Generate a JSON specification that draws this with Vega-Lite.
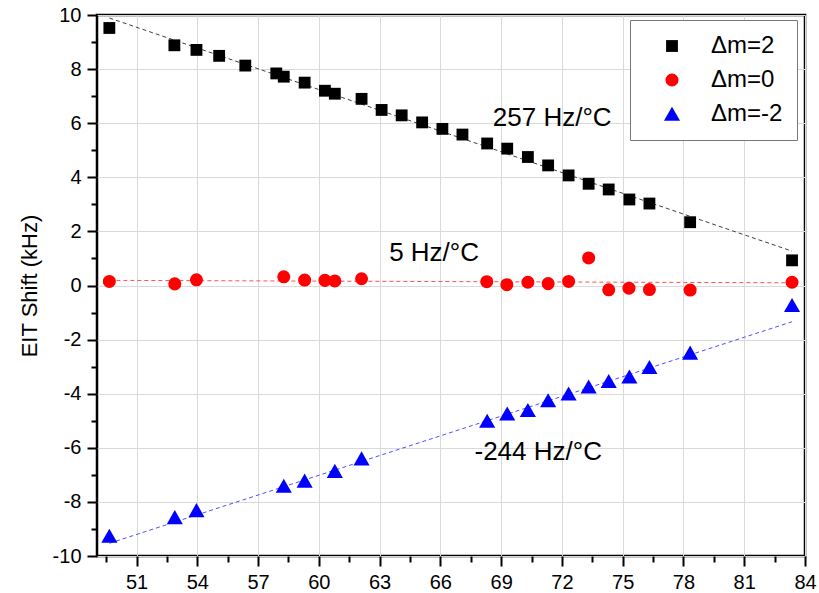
{
  "$schema": "https://vega.github.io/schema/vega-lite/v6.json",
  "autosize": {"type": "none"},
  "padding": {"left": 97, "top": 15, "right": 14, "bottom": 37},
  "width": 708,
  "height": 541,
  "background": "white",
  "config": {
    "view": {"stroke": "black", "strokeWidth": 2.5},
    "font": "Liberation Sans",
    "axis": {
      "labelFont": "Liberation Sans",
      "labelFontSize": 20,
      "labelColor": "black",
      "labelFlush": false,
      "titleFont": "Liberation Sans",
      "titleFontWeight": "normal",
      "titleColor": "black",
      "tickColor": "black",
      "tickWidth": 2,
      "domain": false,
      "gridColor": "#d9d9d9",
      "gridWidth": 1
    }
  },
  "datasets": {
    "points": [
      {"T": 49.66, "shift": 9.52, "series": "Δm=2"},
      {"T": 52.87, "shift": 8.88, "series": "Δm=2"},
      {"T": 53.96, "shift": 8.71, "series": "Δm=2"},
      {"T": 55.08, "shift": 8.49, "series": "Δm=2"},
      {"T": 56.37, "shift": 8.13, "series": "Δm=2"},
      {"T": 57.90, "shift": 7.84, "series": "Δm=2"},
      {"T": 58.27, "shift": 7.72, "series": "Δm=2"},
      {"T": 59.30, "shift": 7.50, "series": "Δm=2"},
      {"T": 60.30, "shift": 7.20, "series": "Δm=2"},
      {"T": 60.79, "shift": 7.09, "series": "Δm=2"},
      {"T": 62.11, "shift": 6.90, "series": "Δm=2"},
      {"T": 63.10, "shift": 6.49, "series": "Δm=2"},
      {"T": 64.09, "shift": 6.29, "series": "Δm=2"},
      {"T": 65.10, "shift": 6.03, "series": "Δm=2"},
      {"T": 66.10, "shift": 5.79, "series": "Δm=2"},
      {"T": 67.09, "shift": 5.58, "series": "Δm=2"},
      {"T": 68.31, "shift": 5.25, "series": "Δm=2"},
      {"T": 69.30, "shift": 5.06, "series": "Δm=2"},
      {"T": 70.32, "shift": 4.75, "series": "Δm=2"},
      {"T": 71.32, "shift": 4.44, "series": "Δm=2"},
      {"T": 72.33, "shift": 4.07, "series": "Δm=2"},
      {"T": 73.32, "shift": 3.76, "series": "Δm=2"},
      {"T": 74.31, "shift": 3.55, "series": "Δm=2"},
      {"T": 75.33, "shift": 3.18, "series": "Δm=2"},
      {"T": 76.32, "shift": 3.03, "series": "Δm=2"},
      {"T": 78.33, "shift": 2.34, "series": "Δm=2"},
      {"T": 83.36, "shift": 0.93, "series": "Δm=2"},
      {"T": 49.66, "shift": 0.15, "series": "Δm=0"},
      {"T": 52.89, "shift": 0.06, "series": "Δm=0"},
      {"T": 53.96, "shift": 0.21, "series": "Δm=0"},
      {"T": 58.27, "shift": 0.32, "series": "Δm=0"},
      {"T": 59.30, "shift": 0.20, "series": "Δm=0"},
      {"T": 60.30, "shift": 0.19, "series": "Δm=0"},
      {"T": 60.79, "shift": 0.17, "series": "Δm=0"},
      {"T": 62.11, "shift": 0.25, "series": "Δm=0"},
      {"T": 68.29, "shift": 0.14, "series": "Δm=0"},
      {"T": 69.28, "shift": 0.03, "series": "Δm=0"},
      {"T": 70.32, "shift": 0.12, "series": "Δm=0"},
      {"T": 71.32, "shift": 0.07, "series": "Δm=0"},
      {"T": 72.33, "shift": 0.15, "series": "Δm=0"},
      {"T": 73.32, "shift": 1.02, "series": "Δm=0"},
      {"T": 74.31, "shift": -0.16, "series": "Δm=0"},
      {"T": 75.31, "shift": -0.10, "series": "Δm=0"},
      {"T": 76.32, "shift": -0.15, "series": "Δm=0"},
      {"T": 78.33, "shift": -0.17, "series": "Δm=0"},
      {"T": 83.36, "shift": 0.12, "series": "Δm=0"},
      {"T": 49.66, "shift": -9.26, "series": "Δm=-2"},
      {"T": 52.89, "shift": -8.57, "series": "Δm=-2"},
      {"T": 53.96, "shift": -8.31, "series": "Δm=-2"},
      {"T": 58.27, "shift": -7.41, "series": "Δm=-2"},
      {"T": 59.30, "shift": -7.22, "series": "Δm=-2"},
      {"T": 60.79, "shift": -6.86, "series": "Δm=-2"},
      {"T": 62.11, "shift": -6.40, "series": "Δm=-2"},
      {"T": 68.31, "shift": -5.01, "series": "Δm=-2"},
      {"T": 69.30, "shift": -4.74, "series": "Δm=-2"},
      {"T": 70.32, "shift": -4.61, "series": "Δm=-2"},
      {"T": 71.32, "shift": -4.25, "series": "Δm=-2"},
      {"T": 72.33, "shift": -4.00, "series": "Δm=-2"},
      {"T": 73.32, "shift": -3.74, "series": "Δm=-2"},
      {"T": 74.31, "shift": -3.54, "series": "Δm=-2"},
      {"T": 75.33, "shift": -3.37, "series": "Δm=-2"},
      {"T": 76.32, "shift": -3.02, "series": "Δm=-2"},
      {"T": 78.33, "shift": -2.49, "series": "Δm=-2"},
      {"T": 83.36, "shift": -0.73, "series": "Δm=-2"}
    ],
    "fits": [
      {"T": 49.66, "shift": 9.89, "fit": "fit2"},
      {"T": 83.36, "shift": 1.27, "fit": "fit2"},
      {"T": 49.66, "shift": 0.19, "fit": "fit0"},
      {"T": 83.36, "shift": 0.10, "fit": "fit0"},
      {"T": 49.66, "shift": -9.53, "fit": "fitm2"},
      {"T": 83.36, "shift": -1.34, "fit": "fitm2"}
    ],
    "notes": [
      {"T": 71.52, "shift": 6.21, "text": "257 Hz/°C"},
      {"T": 65.69, "shift": 1.19, "text": "5 Hz/°C"},
      {"T": 70.83, "shift": -6.15, "text": "-244 Hz/°C"}
    ]
  },
  "layer": [
    {
      "data": {"name": "fits"},
      "mark": {"type": "line", "strokeWidth": 1, "strokeDash": [4, 3]},
      "encoding": {
        "x": {
          "field": "T", "type": "quantitative",
          "scale": {"domain": [49.05, 84], "nice": false, "zero": false},
          "axis": {
            "orient": "bottom",
            "values": [49.5, 52.5, 55.5, 58.5, 61.5, 64.5, 67.5, 70.5, 73.5, 76.5, 79.5, 82.5],
            "labels": false, "grid": false, "tickSize": 6, "title": null
          }
        },
        "y": {
          "field": "shift", "type": "quantitative",
          "scale": {"domain": [-10, 10], "nice": false, "zero": false},
          "axis": {
            "orient": "left",
            "values": [-9, -7, -5, -3, -1, 1, 3, 5, 7, 9],
            "labels": false, "grid": false, "tickSize": 6, "title": null
          }
        },
        "stroke": {
          "field": "fit", "type": "nominal",
          "scale": {"domain": ["fit2", "fit0", "fitm2"], "range": ["#404040", "#ff5050", "#5050ff"]},
          "legend": null
        }
      }
    },
    {
      "data": {"name": "points"},
      "mark": {"type": "point", "filled": true, "opacity": 1},
      "encoding": {
        "x": {
          "field": "T", "type": "quantitative",
          "axis": {
            "orient": "bottom",
            "values": [51, 54, 57, 60, 63, 66, 69, 72, 75, 78, 81, 84],
            "grid": true, "tickSize": 10, "labelPadding": 6, "title": null
          }
        },
        "y": {
          "field": "shift", "type": "quantitative",
          "axis": {
            "orient": "left",
            "values": [-10, -8, -6, -4, -2, 0, 2, 4, 6, 8, 10],
            "labelExpr": "'' + datum.value",
            "grid": true, "tickSize": 10, "labelPadding": 6,
            "title": "EIT Shift (kHz)", "titleFontSize": 22, "titlePadding": 11
          }
        },
        "color": {
          "field": "series", "type": "nominal",
          "scale": {"domain": ["Δm=2", "Δm=0", "Δm=-2"], "range": ["black", "red", "blue"]},
          "legend": {
            "orient": "none", "legendX": 533, "legendY": 5,
            "title": null,
            "fillColor": "white", "strokeColor": "#777",
            "padding": 14,
            "labelFont": "Liberation Sans", "labelFontSize": 24, "labelColor": "black",
            "symbolOffset": 16, "labelOffset": 27,
            "rowPadding": 10, "symbolStrokeWidth": 0
          }
        },
        "shape": {
          "field": "series", "type": "nominal",
          "scale": {"domain": ["Δm=2", "Δm=0", "Δm=-2"], "range": ["square", "circle", "M-1,0.85L1,0.85L0,-0.9Z"]}
        },
        "size": {
          "field": "series", "type": "nominal",
          "scale": {"type": "ordinal", "domain": ["Δm=2", "Δm=0", "Δm=-2"], "range": [140, 170, 260]}
        }
      }
    },
    {
      "data": {"name": "notes"},
      "mark": {"type": "text", "fontSize": 26, "font": "Liberation Sans", "color": "black", "align": "center", "baseline": "middle"},
      "encoding": {
        "x": {"field": "T", "type": "quantitative", "axis": null},
        "y": {"field": "shift", "type": "quantitative", "axis": null},
        "text": {"field": "text", "type": "nominal"}
      }
    }
  ],
  "resolve": {"axis": {"x": "independent", "y": "independent"}}
}
